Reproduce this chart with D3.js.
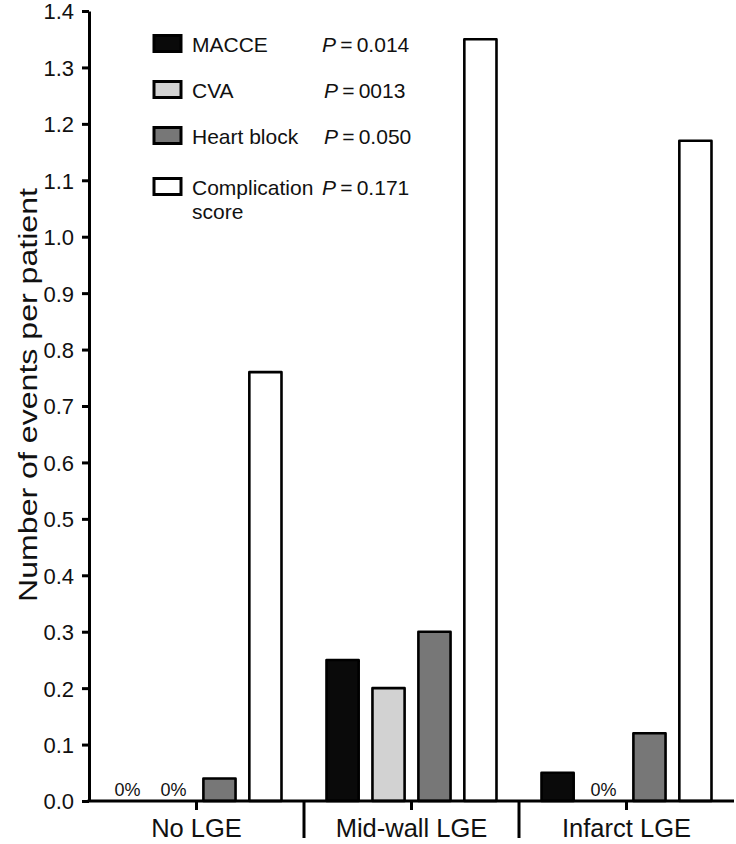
<!DOCTYPE html>
<html><head><meta charset="utf-8">
<script src="https://cdn.jsdelivr.net/npm/d3@7"></script>
<style>body{margin:0;background:#fff}svg{display:block}text{font-family:"Liberation Sans",Arial,sans-serif;fill:#111}</style>
</head><body><svg id="c" width="736" height="844"></svg>
<script>
const categories = ["No LGE", "Mid-wall LGE", "Infarct LGE"];
const seriesNames = ["MACCE", "CVA", "Heart block", "Complication score"];
const macce = [0, 0.25, 0.05];
const cva = [0, 0.20, 0];
const heartBlock = [0.04, 0.30, 0.12];
const complication = [0.76, 1.35, 1.17];
const pValues = ["0.014", "0013", "0.050", "0.171"];
const yTicks = [0,0.1,0.2,0.3,0.4,0.5,0.6,0.7,0.8,0.9,1.0,1.1,1.2,1.3,1.4];

const seriesValues = [macce, cva, heartBlock, complication];
const colors = ["#0a0a0a", "#d2d2d2", "#777777", "#ffffff"];
const FONT = '"Liberation Sans",Arial,sans-serif';

const svg = d3.select("#c");
const mLeft = 89, mRight = 734, mTop = 11, mBottom = 801;

const x = d3.scaleBand().domain(categories).range([mLeft, mRight]).padding(0);
const xs = d3.scaleBand().domain(seriesNames).range([0, x.bandwidth()]).paddingInner(0.3).paddingOuter(0.49);
const y = d3.scaleLinear().domain([0, 1.4]).range([mBottom, mTop]);

// bars
categories.forEach((c, ci) => {
  const g = svg.append("g").attr("transform", `translate(${x(c)},0)`);
  seriesNames.forEach((s, si) => {
    const v = seriesValues[si][ci];
    g.append("rect")
      .attr("x", xs(s)).attr("width", xs.bandwidth())
      .attr("y", y(v) - (v === 0 ? 1.5 : 0)).attr("height", Math.max(0, y(0) - y(v)))
      .attr("fill", colors[si]).attr("stroke", "#000").attr("stroke-width", 2.6)
      .attr("stroke-linejoin", "round");
    if (v === 0) {
      g.append("text").attr("x", xs(s) + xs.bandwidth()/2).attr("y", y(0) - 5.5)
        .attr("text-anchor", "middle").attr("font-size", 18).text("0%");
    }
  });
});

// y axis
const yAxis = d3.axisLeft(y).tickValues(yTicks).tickFormat(d3.format(".1f")).tickSize(7).tickSizeOuter(0).tickPadding(8);
const ya = svg.append("g").attr("transform", `translate(${mLeft},0)`).call(yAxis);
ya.select(".domain").attr("stroke", "#000").attr("stroke-width", 3);
ya.selectAll(".tick line").attr("stroke", "#000").attr("stroke-width", 3);
ya.selectAll(".tick text").attr("font-size", 22).attr("fill", "#111").attr("dy", "0.36em").style("font-family", FONT);

// x axis
const xAxis = d3.axisBottom(x).tickSize(9).tickSizeOuter(0).tickPadding(0);
const xa = svg.append("g").attr("transform", `translate(0,${mBottom})`).call(xAxis);
xa.select(".domain").attr("stroke", "#000").attr("stroke-width", 3).attr("d", `M${mLeft - 1.5},0H${mRight}`);
xa.selectAll(".tick line").attr("stroke", "#000").attr("stroke-width", 3);
xa.selectAll(".tick text").attr("font-size", 25.5).attr("fill", "#111").attr("y", 36).attr("dy", 0).style("font-family", FONT);

// separators
categories.slice(1).forEach(c => {
  svg.append("line").attr("x1", x(c)).attr("x2", x(c)).attr("y1", mBottom).attr("y2", mBottom + 37)
    .attr("stroke", "#000").attr("stroke-width", 3);
});

// y title
svg.append("text").attr("transform", `translate(37,${395}) rotate(-90)`)
  .attr("text-anchor", "middle").attr("font-size", 26)
  .attr("textLength", 414).attr("lengthAdjust", "spacingAndGlyphs")
  .text("Number of events per patient");

// legend
const lg = svg.append("g");
const rowY = i => 43.5 + i * 46 + (i === 3 ? 5 : 0);
seriesNames.forEach((s, i) => {
  const cy = rowY(i);
  lg.append("rect").attr("x", 154).attr("y", cy - 8).attr("width", 27).attr("height", 16)
    .attr("fill", colors[i]).attr("stroke", "#000").attr("stroke-width", 3);
  const t = lg.append("text").attr("x", 192).attr("y", cy + 8).attr("font-size", 21);
  if (i === 3) {
    t.text("Complication");
    lg.append("text").attr("x", 192).attr("y", cy + 32).attr("font-size", 21).text("score");
  } else {
    t.text(s);
  }
  const px = (i === 1 || i === 2) ? 324 : 322;
  const pt = lg.append("text").attr("x", px).attr("y", cy + 8).attr("font-size", 21);
  pt.append("tspan").attr("font-style", "italic").text("P");
  pt.append("tspan").text("\u2009=\u2009" + pValues[i]);
});
</script></body></html>
